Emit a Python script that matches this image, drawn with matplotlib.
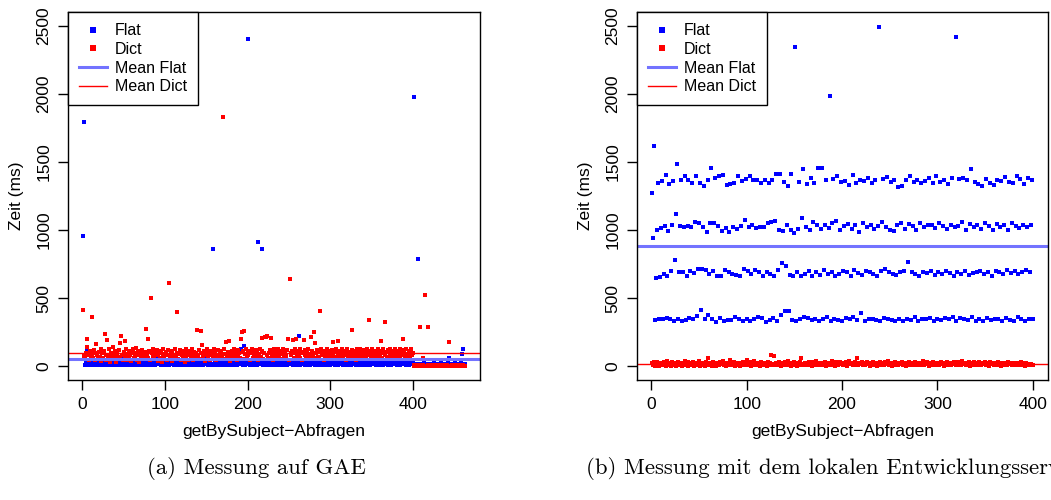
import matplotlib.pyplot as plt
import numpy as np

# ---- data (ms per getBySubject query) ----
gae_flat = [
    955, 1790, 12, 25, 130, 18, 8, 40, 15, 22, 10, 35, 14, 20, 9, 28, 16, 45, 12, 24,
    18, 10, 30, 15, 22, 8, 48, 14, 26, 12, 20, 9, 34, 16, 60, 11, 25, 18, 13, 30,
    9, 22, 15, 38, 12, 28, 70, 16, 10, 24, 14, 32, 8, 20, 18, 42, 11, 26, 15, 10,
    30, 14, 22, 9, 18, 36, 12, 25, 16, 50, 10, 20, 28, 13, 8, 24, 17, 34, 12, 22,
    15, 10, 28, 18, 40, 12, 24, 9, 20, 16, 32, 72, 14, 22, 11, 26, 18, 8, 30, 15,
    20, 12, 36, 16, 10, 25, 55, 14, 22, 18, 9, 28, 15, 34, 12, 20, 26, 10, 17, 30,
    14, 22, 9, 40, 16, 28, 110, 12, 20, 15, 32, 10, 24, 18, 48, 13, 26, 8, 22, 16,
    30, 12, 20, 36, 15, 10, 25, 18, 62, 14, 22, 9, 28, 16, 34, 12, 20, 860, 15, 26,
    10, 22, 18, 30, 12, 40, 16, 24, 9, 20, 28, 14, 35, 11, 22, 17, 50, 13, 26, 10,
    20, 15, 32, 12, 24, 18, 9, 28, 14, 36, 22, 130, 16, 10, 26, 150, 12, 20, 30, 2400,
    15, 22, 10, 28, 16, 34, 12, 20, 18, 42, 9, 24, 910, 14, 30, 16, 22, 860, 12, 26,
    18, 10, 32, 15, 24, 40, 12, 20, 28, 14, 9, 36, 16, 22, 11, 30, 18, 25, 13, 20,
    10, 26, 16, 34, 12, 22, 18, 8, 30, 14, 24, 45, 16, 20, 11, 28, 15, 36, 12, 22,
    18, 220, 10, 26, 14, 32, 20, 16, 9, 24, 38, 12, 22, 15, 30, 10, 18, 26, 14, 20,
    34, 12, 22, 16, 28, 10, 44, 18, 14, 24, 9, 30, 16, 20, 12, 36, 22, 15, 26, 10,
    20, 14, 32, 18, 24, 10, 28, 16, 40, 12, 22, 110, 15, 30, 9, 20, 26, 14, 18, 34,
    12, 24, 16, 30, 10, 22, 18, 38, 14, 26, 9, 20, 28, 16, 12, 34, 22, 15, 24, 10,
    30, 18, 12, 26, 16, 22, 42, 10, 20, 28, 14, 32, 18, 24, 9, 36, 16, 22, 12, 30,
    14, 20, 26, 10, 34, 18, 22, 15, 28, 12, 40, 16, 24, 9, 30, 20, 14, 26, 18, 22,
    10, 32, 16, 24, 12, 28, 20, 14, 36, 18, 22, 9, 26, 16, 30, 12, 20, 48, 15, 24,
    14, 1975, 18, 16, 20, 790, 15, 18, 14, 20, 16, 12, 18, 22, 14, 16, 20, 15, 18, 13,
    17, 20, 14, 18, 16, 22, 15, 19, 13, 18, 20, 16, 14, 22, 17, 15, 19, 14, 20, 16,
    18, 15, 22, 60, 14, 19, 16, 20, 13, 18, 22, 15, 17, 20, 14, 19, 16, 22, 18, 88,
    125, 16, 18,
]
gae_dict = [
    410, 75, 60, 95, 200, 140, 85, 50, 110, 70, 360, 90, 65, 120, 45, 100, 162, 80, 55, 105,
    70, 130, 40, 95, 60, 115, 235, 85, 50, 191, 75, 125, 35, 100, 65, 90, 140, 55, 80, 110,
    30, 95, 70, 120, 60, 175, 220, 85, 45, 105, 184, 75, 130, 50, 90, 65, 115, 80, 40, 100,
    125, 60, 95, 75, 135, 50, 110, 85, 30, 100, 70, 120, 55, 90, 65, 105, 272, 80, 199, 60,
    115, 45, 500, 95, 70, 130, 55, 100, 80, 120, 40, 85, 110, 65, 95, 30, 75, 125, 60, 90,
    105, 50, 80, 120, 610, 70, 95, 40, 115, 85, 60, 130, 75, 100, 400, 55, 90, 120, 45, 80,
    110, 65, 95, 35, 125, 70, 100, 50, 85, 115, 60, 90, 130, 45, 105, 75, 95, 60, 265, 80,
    120, 55, 100, 257, 157, 70, 110, 85, 40, 95, 125, 65, 80, 105, 50, 115, 90, 60, 130, 75,
    100, 45, 85, 120, 70, 95, 60, 110, 80, 1830, 55, 125, 90, 176, 65, 105, 75, 184, 40, 95,
    115, 70, 130, 60, 100, 85, 50, 120, 75, 95, 65, 199, 250, 110, 55, 257, 90, 125, 70, 100,
    80, 115, 45, 95, 130, 65, 105, 85, 60, 120, 75, 100, 50, 90, 125, 70, 205, 110, 55, 95,
    213, 217, 85, 220, 65, 100, 120, 205, 75, 95, 50, 130, 85, 110, 60, 100, 125, 70, 90, 115,
    55, 95, 130, 75, 105, 60, 85, 120, 200, 45, 640, 100, 80, 115, 195, 65, 95, 130, 198, 70,
    110, 85, 60, 125, 95, 50, 105, 191, 80, 120, 65, 100, 130, 75, 90, 55, 218, 115, 85, 60,
    250, 169, 95, 120, 70, 105, 60, 405, 130, 85, 100, 50, 115, 75, 95, 125, 65, 110, 80, 100,
    60, 120, 176, 85, 105, 70, 130, 55, 95, 184, 75, 110, 90, 125, 60, 100, 80, 115, 50, 95,
    130, 70, 105, 85, 60, 120, 265, 95, 75, 110, 50, 125, 90, 65, 100, 130, 80, 105, 55, 95,
    120, 75, 100, 60, 130, 85, 338, 110, 70, 95, 125, 55, 105, 80, 115, 65, 100, 130, 75, 90,
    110, 184, 60, 125, 95, 323, 80, 105, 70, 120, 55, 100, 130, 85, 65, 115, 90, 75, 125, 100,
    60, 110, 85, 130, 70, 95, 120, 199, 80, 105, 55, 125, 90, 65, 100, 115, 75, 130, 85, 95,
    8, 5, 3, 10, 6, 4, 9, 5, 287, 7, 3, 60, 8, 5, 525, 6, 4, 287, 9, 5,
    7, 4, 10, 6, 3, 8, 5, 9, 4, 7, 6, 3, 10, 5, 8, 4, 6, 9, 3, 7,
    5, 8, 4, 176, 6, 3, 9, 5, 7, 4, 10, 6, 3, 8, 5, 9, 4, 6, 7, 3,
    8, 5, 6,
]
local_flat = [
    1270, 940, 1615, 340, 650, 1000, 1345, 350, 655, 1015, 1360, 345, 680, 1030, 1405, 355, 665, 995, 1340, 345,
    700, 1035, 1360, 330, 780, 1120, 1485, 350, 695, 1030, 1370, 335, 690, 1025, 1395, 340, 665, 1030, 1370, 355,
    700, 1020, 1345, 350, 685, 1060, 1400, 370, 715, 1050, 1345, 410, 715, 1020, 1320, 350, 705, 985, 1365, 375,
    680, 1050, 1455, 350, 700, 1055, 1380, 325, 660, 1030, 1395, 355, 665, 995, 1405, 330, 710, 1015, 1330, 340,
    695, 985, 1340, 340, 680, 1025, 1345, 360, 670, 1010, 1400, 350, 660, 1030, 1360, 330, 715, 1075, 1375, 345,
    700, 1025, 1395, 330, 680, 1040, 1365, 345, 710, 1015, 1365, 360, 690, 1025, 1345, 355, 660, 1020, 1365, 325,
    690, 1050, 1345, 340, 680, 1060, 1365, 355, 660, 1070, 1410, 330, 705, 1000, 1410, 375, 760, 990, 1350, 405,
    740, 1040, 1320, 405, 670, 1000, 1410, 340, 660, 980, 2340, 330, 690, 1010, 1350, 345, 665, 1090, 1445, 365,
    680, 1025, 1340, 355, 700, 1000, 1380, 340, 665, 1060, 1345, 350, 690, 1035, 1455, 330, 670, 1010, 1455, 345,
    705, 1040, 1370, 360, 680, 1015, 1985, 335, 695, 1055, 1375, 350, 660, 1070, 1400, 340, 675, 1000, 1355, 330,
    700, 1030, 1360, 355, 690, 1045, 1330, 345, 665, 1010, 1405, 360, 710, 1035, 1345, 340, 685, 985, 1370, 390,
    670, 1055, 1360, 335, 700, 1020, 1385, 350, 690, 1040, 1345, 345, 680, 1005, 1365, 340, 665, 1030, 2490, 330,
    700, 1060, 1375, 355, 715, 1025, 1390, 345, 690, 1000, 1350, 340, 675, 990, 1365, 335, 670, 1035, 1315, 350,
    695, 1050, 1320, 330, 700, 1010, 1370, 345, 765, 1045, 1395, 340, 690, 1030, 1355, 360, 680, 1000, 1365, 335,
    665, 1055, 1345, 350, 695, 1020, 1360, 345, 685, 1040, 1380, 355, 700, 1035, 1345, 330, 670, 1015, 1395, 350,
    690, 1050, 1350, 340, 680, 1030, 1370, 355, 700, 1005, 1335, 345, 685, 1040, 1385, 360, 665, 1020, 2420, 330,
    690, 1030, 1375, 355, 680, 1060, 1385, 345, 700, 1000, 1370, 340, 670, 1045, 1448, 365, 685, 1020, 1355, 335,
    695, 1040, 1340, 350, 700, 1010, 1320, 330, 675, 1055, 1375, 355, 690, 1030, 1345, 340, 665, 1000, 1330, 345,
    700, 1045, 1370, 350, 690, 1020, 1360, 335, 680, 1035, 1390, 355, 705, 1000, 1355, 340, 685, 1050, 1345, 330,
    700, 1030, 1395, 360, 680, 1015, 1375, 345, 690, 1040, 1340, 335, 705, 1020, 1385, 350, 695, 1040, 1365, 345,
]
local_dict = [
    25, 10, 30, 5, 18, 35, 12, 2, 28, 15, 22, 8, 32, 20, 5, 14, 38, 10, 24, 16,
    6, 30, 18, 12, 26, 3, 20, 34, 9, 16, 28, 4, 22, 14, 36, 10, 18, 2, 30, 12,
    24, 8, 16, 32, 5, 20, 12, 28, 15, 38, 6, 22, 10, 26, 18, 4, 30, 14, 20, 60,
    10, 28, 16, 6, 34, 12, 22, 3, 26, 18, 8, 30, 14, 20, 36, 10, 24, 5, 16, 28,
    12, 20, 45, 8, 26, 15, 32, 4, 18, 24, 10, 28, 6, 22, 14, 35, 12, 20, 8, 50,
    16, 26, 10, 30, 5, 22, 14, 36, 8, 20, 28, 12, 18, 4, 32, 16, 24, 10, 26, 14,
    6, 30, 18, 12, 24, 80, 20, 8, 78, 16, 28, 10, 22, 34, 14, 6, 26, 18, 12, 30,
    20, 8, 36, 14, 24, 4, 28, 16, 10, 32, 18, 22, 6, 26, 12, 30, 64, 10, 20, 16,
    28, 8, 22, 14, 34, 10, 18, 26, 4, 30, 12, 20, 36, 16, 8, 24, 14, 28, 10, 22,
    18, 32, 6, 24, 14, 28, 10, 20, 38, 12, 26, 16, 4, 30, 22, 8, 18, 34, 14, 26,
    10, 22, 16, 30, 6, 24, 36, 14, 20, 28, 8, 18, 12, 32, 22, 65, 10, 26, 16, 20,
    30, 12, 24, 8, 18, 34, 14, 26, 4, 22, 16, 30, 10, 20, 28, 14, 6, 24, 18, 32,
    12, 26, 16, 8, 30, 20, 14, 36, 10, 22, 28, 6, 18, 24, 12, 32, 16, 20, 8, 26,
    22, 14, 30, 10, 24, 18, 6, 28, 16, 34, 12, 20, 26, 8, 22, 14, 30, 18, 10, 24,
    16, 28, 12, 20, 36, 8, 24, 14, 30, 18, 6, 26, 22, 10, 32, 16, 20, 12, 28, 14,
    24, 10, 18, 30, 14, 22, 6, 28, 16, 34, 12, 20, 26, 8, 24, 18, 30, 14, 10, 22,
    18, 30, 12, 24, 8, 36, 20, 14, 28, 10, 22, 16, 32, 6, 26, 18, 12, 30, 20, 14,
    26, 12, 20, 34, 16, 8, 28, 22, 14, 30, 10, 24, 18, 6, 32, 20, 14, 26, 12, 22,
    14, 24, 10, 30, 18, 22, 6, 28, 16, 12, 26, 20, 8, 32, 14, 24, 18, 10, 22, 16,
    20, 12, 28, 16, 8, 24, 14, 30, 10, 22, 18, 6, 26, 12, 20, 16, 8, 14, 10, 12,
]
# mean lines
gae_means = (51, 96)
local_means = (880, 20)

captions = ["(a) Messung auf GAE",
            "(b) Messung mit dem lokalen Entwicklungsserver"]

plt.rcParams["font.family"] = ["Liberation Sans", "DejaVu Sans"]

FLAT_LINE = (0.45, 0.45, 1.0)


def draw_panel(ax, flat, dict_, means):
    x = np.arange(1, len(flat) + 1)
    ax.plot(x, flat, "s", ms=2.6, color="#0000ff", mew=0, label="Flat")
    ax.plot(x, dict_, "s", ms=2.6, color="#ff0000", mew=0, label="Dict")
    ax.axhline(means[0], color=FLAT_LINE, lw=2.2, label="Mean Flat")
    ax.axhline(means[1], color="#ff0000", lw=1.0, label="Mean Dict")

    pad = 0.04 * (len(flat) - 1)
    ax.set_xlim(1 - pad, len(flat) + pad)
    ax.set_ylim(-100, 2600)
    ax.set_xticks([0, 100, 200, 300, 400])
    ax.set_yticks([0, 500, 1000, 1500, 2000, 2500])
    ax.tick_params(direction="out", length=7, width=1, labelsize=12.5, pad=5)
    for lab in ax.get_yticklabels():
        lab.set_rotation(90)
        lab.set_va("center")
    for sp in ax.spines.values():
        sp.set_linewidth(1.0)
    ax.set_xlabel("getBySubject\u2212Abfragen", fontsize=12.5, labelpad=9)
    ax.set_ylabel("Zeit (ms)", fontsize=12.5, labelpad=9)

    leg = ax.legend(loc="upper left", borderaxespad=0, fancybox=False,
                    edgecolor="black", framealpha=1, fontsize=11.5,
                    handlelength=1.75, handletextpad=0.5,
                    labelspacing=0.23, borderpad=0.7, markerscale=1.7)
    leg.get_frame().set_linewidth(1.0)


fig = plt.figure(figsize=(10.51, 5.0), dpi=100)
ax1 = fig.add_axes([68 / 1051, 1 - 380 / 500, 412 / 1051, 368 / 500])
ax2 = fig.add_axes([637 / 1051, 1 - 380 / 500, 411 / 1051, 368 / 500])

draw_panel(ax1, gae_flat, gae_dict, gae_means)
draw_panel(ax2, local_flat, local_dict, local_means)

fig.text(147 / 1051, 1 - 474 / 500, captions[0], family="cmr10", fontsize=16.4,
         ha="left", va="baseline")
fig.text(586 / 1051, 1 - 474 / 500, captions[1], family="cmr10", fontsize=16.4,
         ha="left", va="baseline")

fig.savefig("out.png", dpi=100)
